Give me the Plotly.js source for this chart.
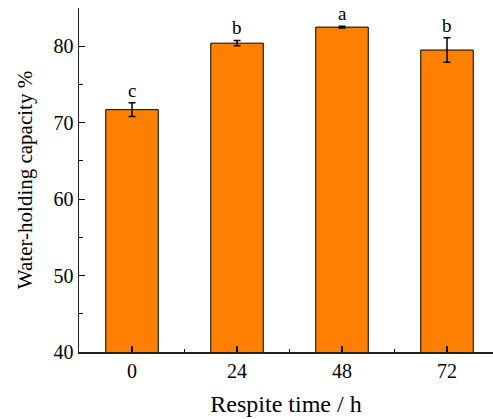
<!DOCTYPE html>
<html>
<head>
<meta charset="utf-8">
<script src="https://cdn.plot.ly/plotly-3.0.1.min.js"></script>
<style>html,body{margin:0;padding:0;background:#fff;overflow:hidden;}</style>
</head>
<body>
<div id="chart" style="width:493px;height:419px;"></div>
<script>
const categories = ["0", "24", "48", "72"];
const values = [71.7, 80.4, 82.5, 79.5];
const errors = [0.9, 0.35, 0.12, 1.6];
const letters = ["c", "b", "a", "b"];

const xs = categories.map((c, i) => i);
const fontFamily = "'Liberation Serif', 'Times New Roman', serif";

const trace = {
  type: "bar",
  x: xs,
  y: values,
  width: 0.5,
  marker: {color: "#FF8000", line: {color: "#000000", width: 1}},
  error_y: {type: "data", array: errors, visible: true, color: "#000000", thickness: 1.5, width: 3.5},
  hoverinfo: "none"
};

const annotations = letters.map((t, i) => ({
  x: xs[i], y: values[i] + errors[i], xref: "x", yref: "y",
  text: t, showarrow: false, yanchor: "bottom", yshift: 0,
  font: {family: fontFamily, size: 19, color: "#000"}
}));

const layout = {
  width: 493, height: 419,
  margin: {l: 79, r: 0, t: 8, b: 67},
  paper_bgcolor: "#fff", plot_bgcolor: "#fff",
  showlegend: false,
  bargap: 0,
  font: {family: fontFamily, color: "#000"},
  xaxis: {
    range: [-0.505, 3.438],
    tickmode: "array", tickvals: xs, ticktext: categories,
    ticks: "inside", ticklen: 6, tickwidth: 1.2, tickcolor: "#000",
    minor: {dtick: 0.5, tick0: 0, ticks: "inside", ticklen: 3, tickwidth: 1, tickcolor: "#000"},
    showline: true, linecolor: "#222", linewidth: 1.5,
    showgrid: false, zeroline: false,
    tickfont: {family: fontFamily, size: 20, color: "#000"},
    title: {text: "Respite time / h", font: {family: fontFamily, size: 24, color: "#000"}, standoff: 14}
  },
  yaxis: {
    range: [40, 85],
    tickmode: "linear", tick0: 40, dtick: 10,
    ticks: "inside", ticklen: 6, tickwidth: 1.2, tickcolor: "#000",
    minor: {dtick: 5, tick0: 40, ticks: "inside", ticklen: 4, tickwidth: 1, tickcolor: "#000"},
    showline: true, linecolor: "#222", linewidth: 1.5,
    showgrid: false, zeroline: false,
    tickfont: {family: fontFamily, size: 20, color: "#000"},
    title: {text: "Water-holding capacity %", font: {family: fontFamily, size: 21, color: "#000"}, standoff: 15}
  },
  annotations: annotations
};

Plotly.newPlot("chart", [trace], layout, {staticPlot: true, displayModeBar: false});
</script>
</body>
</html>
